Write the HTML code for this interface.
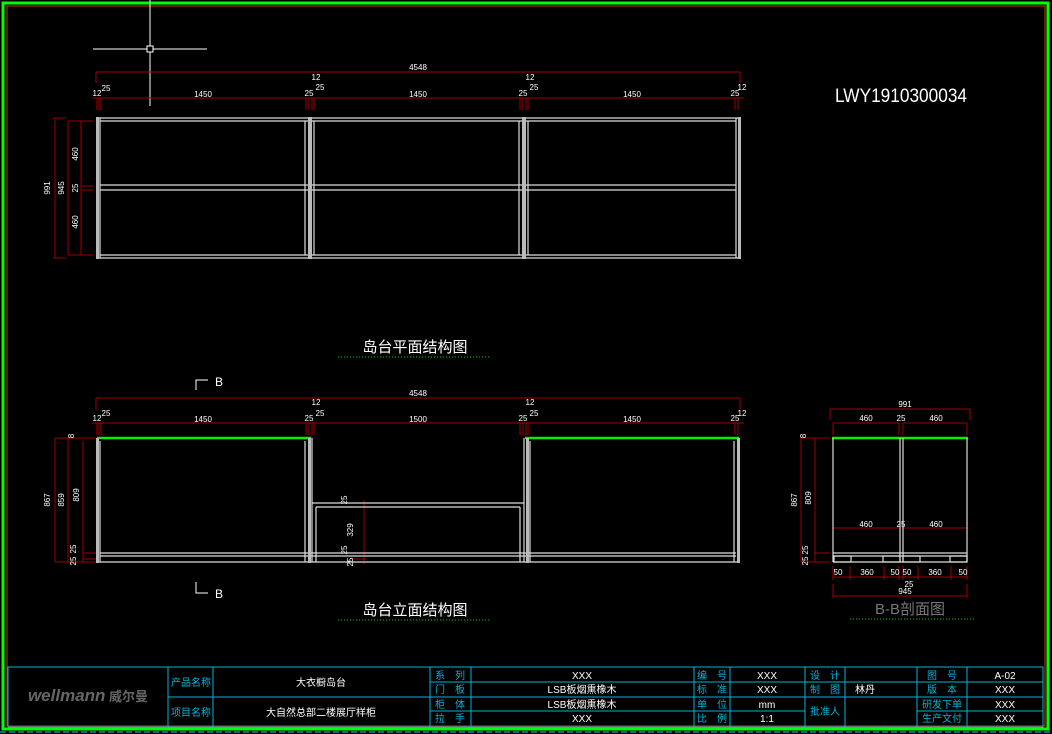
<!DOCTYPE html>
<html><head><meta charset="utf-8"><style>
html,body{margin:0;padding:0;background:#000;}
svg{display:block}
text{font-family:"Liberation Sans","Noto Sans CJK SC",sans-serif;}
</style></head><body>
<svg width="1052" height="734" viewBox="0 0 1052 734" xmlns="http://www.w3.org/2000/svg">
<rect width="1052" height="734" fill="#000"/>
<rect x="3" y="3" width="1045" height="726" fill="none" stroke="#00ff00" stroke-width="3"/>
<rect x="7" y="6" width="1038" height="720" fill="none" stroke="#c83c00" stroke-width="1"/>
<line x1="0" y1="732" x2="1052" y2="732" stroke="#0a6a8a" stroke-width="2" stroke-dasharray="6,3"/>
<g stroke="#fff" stroke-width="1">
<line x1="150" y1="0" x2="150" y2="106"/><line x1="93" y1="49" x2="207" y2="49"/>
<rect x="147" y="46" width="6" height="6" fill="#000"/>
</g>
<text x="835" y="102" fill="#fff" font-family="Liberation Serif,serif" font-size="19" textLength="132" lengthAdjust="spacingAndGlyphs">LWY1910300034</text>

<g stroke="#a00000" stroke-width="1" fill="none">
<line x1="96" y1="72" x2="740" y2="72"/><line x1="96" y1="72" x2="96" y2="83"/><line x1="740" y1="72" x2="740" y2="83"/>
<line x1="92" y1="98" x2="744" y2="98"/>
<line x1="97" y1="98" x2="97" y2="110"/><line x1="99" y1="98" x2="99" y2="110"/><line x1="101" y1="98" x2="101" y2="110"/>
<line x1="306" y1="98" x2="306" y2="110"/><line x1="309" y1="98" x2="309" y2="110"/><line x1="312" y1="98" x2="312" y2="110"/><line x1="314" y1="98" x2="314" y2="110"/>
<line x1="520" y1="98" x2="520" y2="110"/><line x1="523" y1="98" x2="523" y2="110"/><line x1="526" y1="98" x2="526" y2="110"/><line x1="528" y1="98" x2="528" y2="110"/>
<line x1="735" y1="98" x2="735" y2="110"/><line x1="738" y1="98" x2="738" y2="110"/>
<line x1="55" y1="118" x2="55" y2="258"/><line x1="53" y1="118" x2="66" y2="118"/><line x1="53" y1="258" x2="66" y2="258"/>
<line x1="68" y1="121" x2="68" y2="255"/><line x1="68" y1="121" x2="93" y2="121"/><line x1="68" y1="255" x2="93" y2="255"/>
<line x1="81" y1="121" x2="81" y2="255"/><line x1="81" y1="186" x2="93" y2="186"/><line x1="81" y1="190" x2="93" y2="190"/>
</g>
<g fill="#fff" font-size="8" text-anchor="middle">
<text x="418" y="70">4548</text>
<text x="203" y="97">1450</text><text x="418" y="97">1450</text><text x="632" y="97">1450</text>
<text x="97" y="96">12</text><text x="106" y="91">25</text>
<text x="309" y="96">25</text><text x="316" y="80">12</text><text x="320" y="90">25</text>
<text x="523" y="96">25</text><text x="530" y="80">12</text><text x="534" y="90">25</text>
<text x="735" y="96">25</text><text x="742" y="90">12</text>
<text transform="translate(50,188) rotate(-90)">991</text>
<text transform="translate(64,188) rotate(-90)">945</text>
<text transform="translate(78,154) rotate(-90)">460</text>
<text transform="translate(78,188) rotate(-90)">25</text>
<text transform="translate(78,222) rotate(-90)">460</text>
</g>
<g stroke="#ddd" stroke-width="1.2" fill="none">
<line x1="96" y1="118" x2="740" y2="118"/><line x1="100" y1="121" x2="736" y2="121"/>
<line x1="100" y1="255" x2="736" y2="255"/><line x1="96" y1="258" x2="740" y2="258"/>
<line x1="100" y1="185" x2="736" y2="185"/><line x1="100" y1="190" x2="736" y2="190"/>
<line x1="305" y1="121" x2="305" y2="255"/><line x1="314" y1="121" x2="314" y2="255"/>
<line x1="519" y1="121" x2="519" y2="255"/><line x1="528" y1="121" x2="528" y2="255"/>
<line x1="100" y1="118" x2="100" y2="258"/><line x1="736" y1="118" x2="736" y2="258"/>
</g>
<g fill="#bbb"><rect x="96" y="117" width="3" height="142"/><rect x="308" y="117" width="4" height="142"/><rect x="522" y="117" width="4" height="142"/><rect x="738" y="117" width="3" height="142"/></g>
<text x="415" y="352" fill="#fff" font-size="15" text-anchor="middle">岛台平面结构图</text>
<line x1="338" y1="357" x2="490" y2="357" stroke="#0c0" stroke-dasharray="1,2"/>

<g stroke="#fff" stroke-width="1" fill="none">
<polyline points="196,390 196,380 208,380"/><polyline points="196,582 196,593 208,593"/>
</g>
<text x="215" y="386" fill="#fff" font-size="12">B</text>
<text x="215" y="598" fill="#fff" font-size="12">B</text>
<g stroke="#a00000" stroke-width="1" fill="none">
<line x1="96" y1="398" x2="740" y2="398"/><line x1="96" y1="398" x2="96" y2="410"/><line x1="740" y1="398" x2="740" y2="410"/>
<line x1="92" y1="423" x2="744" y2="423"/>
<line x1="97" y1="423" x2="97" y2="435"/><line x1="99" y1="423" x2="99" y2="435"/><line x1="101" y1="423" x2="101" y2="435"/>
<line x1="306" y1="423" x2="306" y2="435"/><line x1="309" y1="423" x2="309" y2="435"/><line x1="312" y1="423" x2="312" y2="435"/><line x1="314" y1="423" x2="314" y2="435"/>
<line x1="520" y1="423" x2="520" y2="435"/><line x1="523" y1="423" x2="523" y2="435"/><line x1="526" y1="423" x2="526" y2="435"/><line x1="528" y1="423" x2="528" y2="435"/>
<line x1="735" y1="423" x2="735" y2="435"/><line x1="738" y1="423" x2="738" y2="435"/>
<line x1="55" y1="438" x2="55" y2="562"/><line x1="55" y1="438" x2="96" y2="438"/><line x1="55" y1="562" x2="96" y2="562"/>
<line x1="68" y1="438" x2="68" y2="562"/>
<line x1="83" y1="441" x2="83" y2="562"/><line x1="83" y1="553" x2="96" y2="553"/><line x1="83" y1="559" x2="96" y2="559"/>
<line x1="364" y1="500" x2="364" y2="564"/><line x1="352" y1="503" x2="365" y2="503"/><line x1="352" y1="507" x2="365" y2="507"/>
<line x1="352" y1="553" x2="365" y2="553"/><line x1="352" y1="556" x2="365" y2="556"/><line x1="352" y1="559" x2="365" y2="559"/>
</g>
<g fill="#fff" font-size="8" text-anchor="middle">
<text x="418" y="396">4548</text>
<text x="203" y="422">1450</text><text x="418" y="422">1500</text><text x="632" y="422">1450</text>
<text x="97" y="421">12</text><text x="106" y="416">25</text>
<text x="309" y="421">25</text><text x="316" y="405">12</text><text x="320" y="416">25</text>
<text x="523" y="421">25</text><text x="530" y="405">12</text><text x="534" y="416">25</text>
<text x="735" y="421">25</text><text x="742" y="416">12</text>
<text transform="translate(74,436) rotate(-90)">8</text>
<text transform="translate(50,500) rotate(-90)">867</text>
<text transform="translate(64,500) rotate(-90)">859</text>
<text transform="translate(79,495) rotate(-90)">809</text>
<text transform="translate(76,549) rotate(-90)">25</text>
<text transform="translate(76,561) rotate(-90)">25</text>
<text transform="translate(347,500) rotate(-90)">25</text>
<text transform="translate(353,530) rotate(-90)">329</text>
<text transform="translate(347,550) rotate(-90)">25</text>
<text transform="translate(353,562) rotate(-90)">25</text>
</g>
<g stroke="#00ee00" stroke-width="2.5"><line x1="97" y1="438" x2="311" y2="438"/><line x1="525" y1="438" x2="739" y2="438"/><line x1="832" y1="438" x2="968" y2="438"/></g>
<g stroke="#ddd" stroke-width="1.2" fill="none">
<line x1="100" y1="441" x2="100" y2="562"/><line x1="305" y1="441" x2="305" y2="562"/><line x1="312" y1="438" x2="312" y2="562"/>
<line x1="312" y1="503" x2="524" y2="503"/><line x1="316" y1="507" x2="520" y2="507"/>
<line x1="316" y1="507" x2="316" y2="562"/><line x1="520" y1="507" x2="520" y2="562"/>
<line x1="524" y1="438" x2="524" y2="562"/><line x1="530" y1="441" x2="530" y2="562"/><line x1="734" y1="441" x2="734" y2="562"/>
<line x1="100" y1="553" x2="736" y2="553"/><line x1="100" y1="556" x2="736" y2="556"/><line x1="96" y1="562" x2="740" y2="562"/>
</g>
<g fill="#bbb"><rect x="96" y="438" width="3" height="125"/><rect x="308" y="438" width="3" height="125"/><rect x="526" y="438" width="3" height="125"/><rect x="737" y="438" width="3" height="125"/></g>
<text x="415" y="615" fill="#fff" font-size="15" text-anchor="middle">岛台立面结构图</text>
<line x1="338" y1="620" x2="490" y2="620" stroke="#0c0" stroke-dasharray="1,2"/>

<g stroke="#a00000" stroke-width="1" fill="none">
<line x1="830" y1="409" x2="970" y2="409"/><line x1="830" y1="409" x2="830" y2="420"/><line x1="970" y1="409" x2="970" y2="420"/>
<line x1="833" y1="423" x2="899" y2="423"/><line x1="903" y1="423" x2="967" y2="423"/>
<line x1="833" y1="423" x2="833" y2="435"/><line x1="899" y1="423" x2="899" y2="435"/><line x1="903" y1="423" x2="903" y2="435"/><line x1="967" y1="423" x2="967" y2="435"/>
<line x1="801" y1="438" x2="830" y2="438"/><line x1="801" y1="438" x2="801" y2="562"/><line x1="815" y1="438" x2="815" y2="562"/>
<line x1="801" y1="562" x2="830" y2="562"/><line x1="815" y1="553" x2="830" y2="553"/>
<line x1="833" y1="528" x2="899" y2="528"/><line x1="903" y1="528" x2="967" y2="528"/>
<line x1="833" y1="528" x2="833" y2="540"/><line x1="967" y1="528" x2="967" y2="540"/>
<line x1="833" y1="577" x2="967" y2="577"/>
<line x1="833" y1="566" x2="833" y2="580"/><line x1="850" y1="566" x2="850" y2="580"/><line x1="884" y1="566" x2="884" y2="580"/><line x1="899" y1="566" x2="899" y2="580"/><line x1="903" y1="566" x2="903" y2="580"/><line x1="918" y1="566" x2="918" y2="580"/><line x1="951" y1="566" x2="951" y2="580"/><line x1="967" y1="566" x2="967" y2="580"/>
<line x1="833" y1="596" x2="967" y2="596"/><line x1="833" y1="584" x2="833" y2="598"/><line x1="967" y1="584" x2="967" y2="598"/>
</g>
<g fill="#fff" font-size="8" text-anchor="middle">
<text x="905" y="407">991</text>
<text x="866" y="421">460</text><text x="901" y="421">25</text><text x="936" y="421">460</text>
<text x="866" y="527">460</text><text x="901" y="527">25</text><text x="936" y="527">460</text>
<text x="838" y="575">50</text><text x="867" y="575">360</text><text x="895" y="575">50</text><text x="907" y="575">50</text><text x="935" y="575">360</text><text x="963" y="575">50</text>
<text x="909" y="587">25</text><text x="905" y="594">945</text>
<text transform="translate(806,436) rotate(-90)">8</text>
<text transform="translate(797,500) rotate(-90)">867</text>
<text transform="translate(811,498) rotate(-90)">809</text>
<text transform="translate(808,550) rotate(-90)">25</text>
<text transform="translate(808,561) rotate(-90)">25</text>
</g>
<g stroke="#ddd" stroke-width="1.2" fill="none">
<line x1="833" y1="438" x2="833" y2="562"/><line x1="900" y1="438" x2="900" y2="562"/><line x1="903" y1="438" x2="903" y2="562"/><line x1="967" y1="438" x2="967" y2="562"/>
<line x1="833" y1="553" x2="967" y2="553"/><line x1="833" y1="556" x2="967" y2="556"/><line x1="833" y1="562" x2="967" y2="562"/>
<rect x="834" y="556" width="17" height="6"/><rect x="883" y="556" width="17" height="6"/><rect x="903" y="556" width="17" height="6"/><rect x="950" y="556" width="17" height="6"/>
</g>
<text x="910" y="614" fill="#777" font-size="15" text-anchor="middle">B-B剖面图</text>
<line x1="850" y1="619" x2="975" y2="619" stroke="#0c0" stroke-dasharray="1,2"/>

<g stroke="#00b4d8" stroke-width="1" fill="none">
<rect x="8" y="667" width="1035" height="60"/>
<line x1="168" y1="667" x2="168" y2="727"/><line x1="213" y1="667" x2="213" y2="727"/>
<line x1="168" y1="697" x2="430" y2="697"/>
<line x1="430" y1="667" x2="430" y2="727"/><line x1="471" y1="667" x2="471" y2="727"/><line x1="694" y1="667" x2="694" y2="727"/><line x1="730" y1="667" x2="730" y2="727"/><line x1="805" y1="667" x2="805" y2="727"/><line x1="845" y1="667" x2="845" y2="727"/><line x1="917" y1="667" x2="917" y2="727"/><line x1="967" y1="667" x2="967" y2="727"/>
<line x1="430" y1="682" x2="1043" y2="682"/><line x1="430" y1="697" x2="1043" y2="697"/><line x1="430" y1="711" x2="805" y2="711"/><line x1="917" y1="711" x2="1043" y2="711"/>
</g>
<text x="88" y="701" fill="#666" font-size="17" font-weight="bold" font-style="italic" text-anchor="middle">wellmann<tspan font-size="13" font-style="normal"> 威尔曼</tspan></text>
<g fill="#00b4d8" font-size="10" text-anchor="middle">
<text x="191" y="686">产品名称</text><text x="191" y="716">项目名称</text>
<text x="450" y="679">系　列</text><text x="450" y="693">门　板</text><text x="450" y="708">柜　体</text><text x="450" y="722">拉　手</text>
<text x="712" y="679">编　号</text><text x="712" y="693">标　准</text><text x="712" y="708">单　位</text><text x="712" y="722">比　例</text>
<text x="825" y="679">设　计</text><text x="825" y="693">制　图</text><text x="825" y="715">批准人</text>
<text x="942" y="679">图　号</text><text x="942" y="693">版　本</text><text x="942" y="708">研发下单</text><text x="942" y="722">生产文付</text>
</g>
<g fill="#fff" font-size="10" text-anchor="middle">
<text x="321" y="686">大衣橱岛台</text><text x="321" y="716">大自然总部二楼展厅样柜</text>
<text x="582" y="679">XXX</text><text x="582" y="693">LSB板烟熏橡木</text><text x="582" y="708">LSB板烟熏橡木</text><text x="582" y="722">XXX</text>
<text x="767" y="679">XXX</text><text x="767" y="693">XXX</text><text x="767" y="708">mm</text><text x="767" y="722">1:1</text>
<text x="865" y="693">林丹</text>
<text x="1005" y="679">A-02</text><text x="1005" y="693">XXX</text><text x="1005" y="708">XXX</text><text x="1005" y="722">XXX</text>
</g>
</svg>
</body></html>
